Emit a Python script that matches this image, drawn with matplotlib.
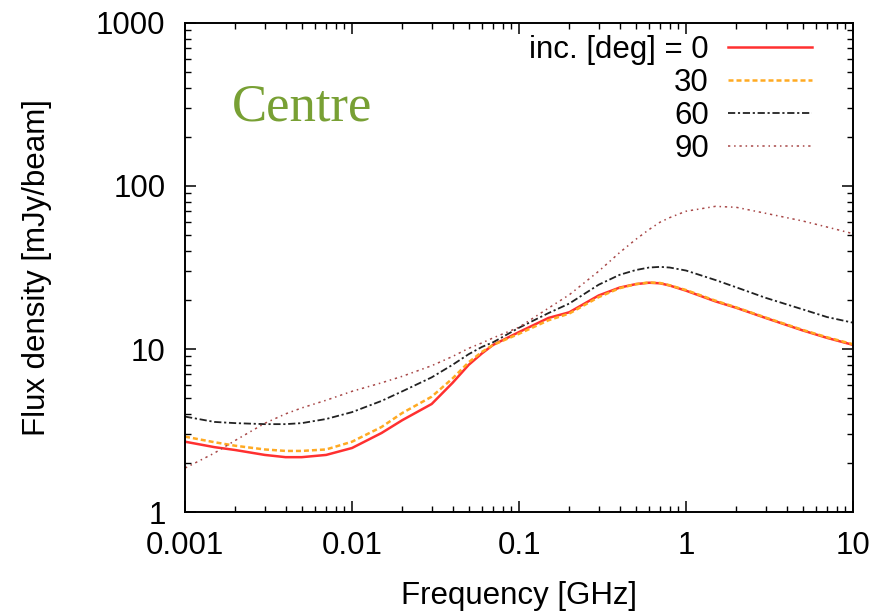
import matplotlib
matplotlib.use("Agg")
import matplotlib.pyplot as plt

plt.rcParams['font.family'] = ['Liberation Sans', 'DejaVu Sans']

# frequency grid [GHz]
freq = [0.001, 0.0015, 0.002, 0.003, 0.004, 0.005, 0.007, 0.01, 0.015, 0.02,
        0.03, 0.04, 0.05, 0.06, 0.07, 0.1, 0.15, 0.2, 0.3, 0.4, 0.5, 0.6, 0.7, 0.8,
        1.0, 1.5, 2, 3, 5, 7, 10]

# flux density [mJy/beam] for each inclination
flux_0 = [2.70, 2.50, 2.40, 2.24, 2.17, 2.17, 2.24, 2.47, 3.05, 3.66,
          4.6, 6.2, 8.0, 9.4, 10.6, 12.7, 15.5, 16.8, 21.3, 23.8, 25.0, 25.5, 25.3, 24.5,
          22.8, 19.6, 17.9, 15.5, 13.0, 11.7, 10.6]
flux_30 = [2.90, 2.68, 2.55, 2.42, 2.37, 2.37, 2.42, 2.70, 3.32, 4.05,
           5.1, 6.6, 8.3, 9.6, 10.6, 12.4, 15.0, 16.5, 20.8, 23.6, 25.0, 25.6, 25.4, 24.6,
           23.0, 19.8, 18.0, 15.6, 13.1, 11.8, 10.7]
flux_60 = [3.85, 3.57, 3.51, 3.46, 3.46, 3.51, 3.72, 4.1, 4.8, 5.5,
           6.7, 8.0, 9.3, 10.3, 11.0, 13.5, 16.6, 19.0, 24.8, 28.5, 30.5, 31.6, 31.9, 31.6,
           30.3, 26.5, 23.9, 20.6, 17.5, 15.7, 14.5]
flux_90 = [1.86, 2.3, 2.75, 3.5, 4.0, 4.35, 4.85, 5.5, 6.2, 6.8,
           7.9, 9.0, 10.1, 10.9, 11.7, 13.6, 17.8, 21.5, 30.0, 39.0, 47.0, 54.0, 60.0, 64.0,
           70.0, 75.0, 74.0, 68.0, 61.0, 56.0, 51.0]

labels = ["inc. [deg] = 0", "30", "60", "90"]

fig = plt.figure(figsize=(8.77, 6.11), dpi=100)
ax = fig.add_axes([0.211, 0.162, 0.7616, 0.8004])

ax.plot(freq, flux_0, color="#FF3030", lw=1.8, linestyle="-", label=labels[0])
ax.plot(freq, flux_30, color="#FFAA22", lw=1.8, linestyle=(0, (2, 1.2)), label=labels[1])
ax.plot(freq, flux_60, color="#222222", lw=1.3, linestyle=(0, (4, 1.5, 1.2, 1.5)), label=labels[2])
ax.plot(freq, flux_90, color="#A84848", lw=1.1, linestyle=(0, (1.5, 2.5, 1, 2.5)), label=labels[3])

ax.set_xscale("log")
ax.set_yscale("log")
ax.set_xlim(0.001, 10)
ax.set_ylim(1, 1000)
ax.set_xticks([0.001, 0.01, 0.1, 1, 10])
ax.set_xticklabels(["0.001", "0.01", "0.1", "1", "10"])
ax.set_yticks([1, 10, 100, 1000])
ax.set_yticklabels(["1", "10", "100", "1000"])

ax.tick_params(which="both", direction="in", top=True, right=True, labelsize=22.5)
ax.tick_params(which="major", length=8, width=1.1, pad=14)
ax.tick_params(which="minor", length=4, width=1.0)
for s in ax.spines.values():
    s.set_linewidth(1.4)

ax.set_xlabel("Frequency [GHz]", fontsize=22.5, labelpad=14)
ax.set_ylabel("Flux density [mJy/beam]", fontsize=22.5, labelpad=32)

ax.text(0.070, 0.80, "Centre", transform=ax.transAxes, fontsize=38,
        family="Liberation Serif", color="#78A034")

ax.legend(loc="upper right", bbox_to_anchor=(0.9386, 0.976), frameon=False,
          markerfirst=False, fontsize=22.5, handlelength=2.7, handletextpad=0.6,
          labelspacing=0.1, borderpad=0, borderaxespad=0)

fig.savefig("out.png", dpi=100)
